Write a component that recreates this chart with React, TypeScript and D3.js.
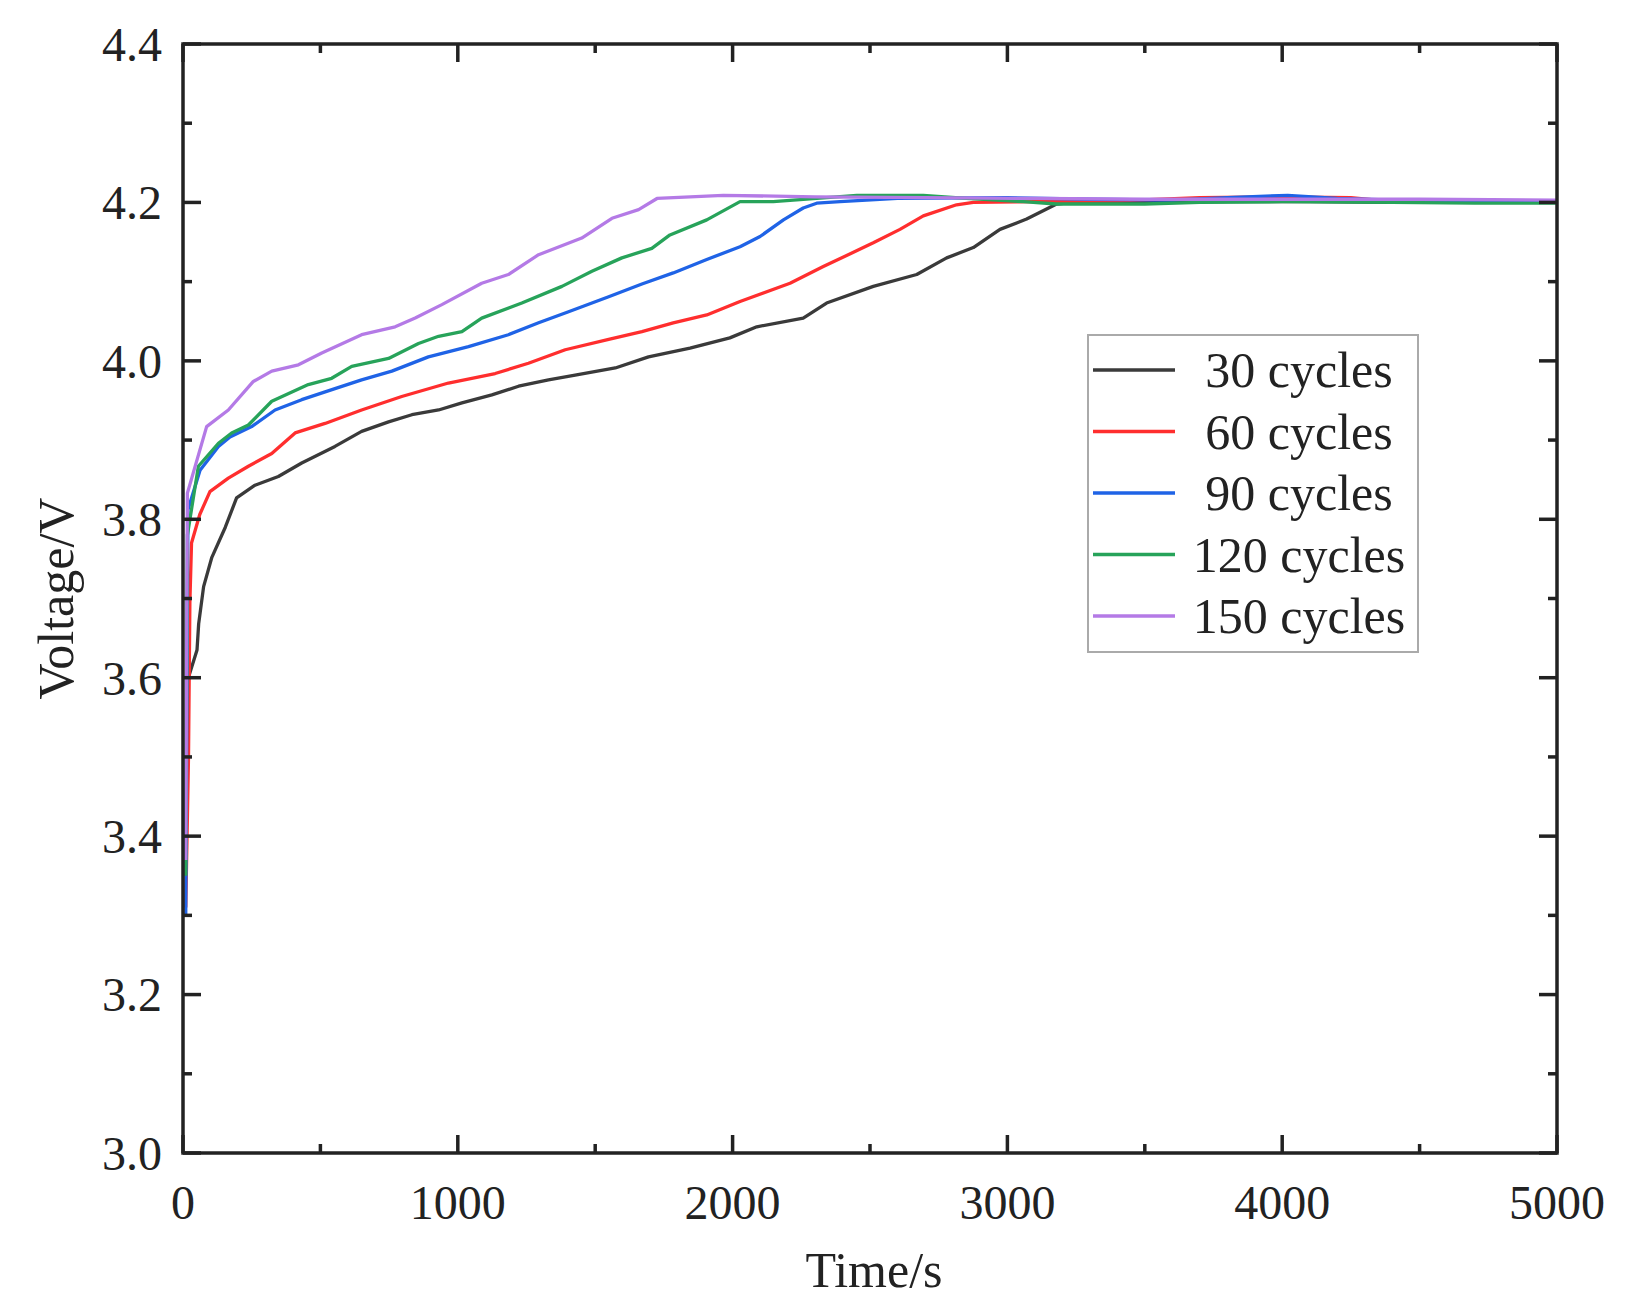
import { useEffect, useRef } from 'react';
import * as d3 from 'd3';

type Pt = [number, number];

// time (s), voltage (V)
const cycles30: Pt[] = [
    [15, 3.595], [51, 3.635], [57, 3.668], [75, 3.715], [105, 3.752], [154, 3.79], [195, 3.827],
    [262, 3.843], [347, 3.854], [432, 3.871], [553, 3.892], [650, 3.911], [748, 3.923], [833, 3.932],
    [930, 3.938], [1015, 3.947], [1124, 3.957], [1221, 3.968], [1330, 3.976], [1427, 3.982],
    [1573, 3.991], [1694, 4.005], [1845, 4.016], [1990, 4.029], [2088, 4.043], [2257, 4.054],
    [2342, 4.073], [2512, 4.094], [2670, 4.109], [2779, 4.13], [2876, 4.143], [2973, 4.166],
    [3070, 4.179], [3179, 4.198], [3240, 4.2], [3500, 4.2], [3800, 4.201], [4100, 4.201],
    [4400, 4.2], [4700, 4.2], [5000, 4.2],
];

const cycles60: Pt[] = [
    [10, 3.31], [20, 3.5], [25, 3.695], [31, 3.77], [61, 3.806], [98, 3.835], [165, 3.852],
    [238, 3.867], [323, 3.883], [408, 3.909], [517, 3.921], [650, 3.938], [796, 3.955], [966, 3.972],
    [1136, 3.984], [1257, 3.997], [1391, 4.014], [1549, 4.027], [1670, 4.037], [1784, 4.048],
    [1906, 4.058], [2027, 4.075], [2209, 4.098], [2330, 4.119], [2512, 4.149], [2609, 4.166],
    [2694, 4.183], [2815, 4.197], [2876, 4.2], [3100, 4.201], [3400, 4.202], [3700, 4.206],
    [4000, 4.207], [4250, 4.206], [4400, 4.201], [4700, 4.201], [5000, 4.201],
];

const cycles90: Pt[] = [
    [10, 3.3], [18, 3.812], [62, 3.862], [129, 3.892], [171, 3.904], [250, 3.917], [335, 3.938],
    [432, 3.951], [553, 3.965], [650, 3.976], [760, 3.987], [893, 4.005], [1039, 4.018], [1184, 4.033],
    [1294, 4.048], [1403, 4.062], [1549, 4.081], [1670, 4.097], [1784, 4.111], [1906, 4.128],
    [2027, 4.144], [2100, 4.157], [2185, 4.178], [2257, 4.193], [2306, 4.199], [2391, 4.201],
    [2600, 4.205], [3000, 4.206], [3300, 4.204], [3600, 4.203], [3800, 4.206], [4020, 4.209],
    [4200, 4.205], [4500, 4.202], [5000, 4.201],
];

const cycles120: Pt[] = [
    [10, 3.35], [16, 3.78], [56, 3.867], [129, 3.896], [177, 3.909], [238, 3.919], [323, 3.949],
    [456, 3.97], [541, 3.978], [614, 3.993], [748, 4.003], [857, 4.022], [930, 4.031], [1015, 4.037],
    [1087, 4.054], [1233, 4.073], [1379, 4.094], [1488, 4.113], [1597, 4.13], [1706, 4.142],
    [1772, 4.159], [1906, 4.178], [2027, 4.201], [2148, 4.201], [2452, 4.209], [2694, 4.209],
    [2850, 4.205], [3058, 4.201], [3179, 4.198], [3500, 4.198], [3700, 4.2], [4000, 4.201],
    [4400, 4.2], [4700, 4.199], [5000, 4.199],
];

const cycles150: Pt[] = [
    [10, 3.37], [16, 3.833], [86, 3.917], [165, 3.938], [256, 3.974], [323, 3.987], [420, 3.995],
    [505, 4.01], [650, 4.033], [772, 4.043], [845, 4.054], [942, 4.071], [1087, 4.098], [1184, 4.109],
    [1294, 4.134], [1451, 4.155], [1561, 4.18], [1658, 4.191], [1725, 4.205], [1966, 4.209],
    [2300, 4.207], [2700, 4.206], [3100, 4.205], [3500, 4.204], [4000, 4.204], [4500, 4.204],
    [5000, 4.203],
];

const seriesNames = ['30 cycles', '60 cycles', '90 cycles', '120 cycles', '150 cycles'];
const seriesColors = ['#3a3a3a', '#ff2e2e', '#1f63e6', '#27a35a', '#b47ae6'];
const seriesData = [cycles30, cycles60, cycles90, cycles120, cycles150];

const xTicks = [0, 1000, 2000, 3000, 4000, 5000];
const xMinorTicks = [500, 1500, 2500, 3500, 4500];
const yTicks = [3.0, 3.2, 3.4, 3.6, 3.8, 4.0, 4.2, 4.4];
const yMinorTicks = [3.1, 3.3, 3.5, 3.7, 3.9, 4.1, 4.3];

const FONT = "'Liberation Serif', 'Times New Roman', serif";

export default function App() {
    const svgRef = useRef<SVGSVGElement>(null);
    const width = 1630;
    const height = 1300;

    useEffect(() => {
        if (!svgRef.current) return;
        d3.select(svgRef.current).selectAll('*').remove();

        const left = 183, right = 1557, top = 44, bottom = 1153;
        const svg = d3.select(svgRef.current);

        const x = d3.scaleLinear().domain([0, 5000]).range([left, right]);
        const y = d3.scaleLinear().domain([3.0, 4.4]).range([bottom, top]);

        // Lines
        const line = d3
            .line<Pt>()
            .x((d) => x(d[0]))
            .y((d) => y(d[1]));

        seriesData.forEach((data, i) => {
            svg
                .append('path')
                .datum(data)
                .attr('d', line)
                .attr('fill', 'none')
                .attr('stroke', seriesColors[i])
                .attr('stroke-width', 3.3)
                .attr('stroke-linejoin', 'round');
        });

        const axisColor = '#222';

        // Ticks on all four sides, pointing inward
        const tickLine = (x1: number, y1: number, x2: number, y2: number) =>
            svg
                .append('line')
                .attr('x1', x1)
                .attr('y1', y1)
                .attr('x2', x2)
                .attr('y2', y2)
                .attr('stroke', axisColor)
                .attr('stroke-width', 3.5);

        xTicks.forEach((t) => {
            tickLine(x(t), bottom, x(t), bottom - 18);
            tickLine(x(t), top, x(t), top + 18);
        });
        xMinorTicks.forEach((t) => {
            tickLine(x(t), bottom, x(t), bottom - 9);
            tickLine(x(t), top, x(t), top + 9);
        });
        yTicks.forEach((v) => {
            tickLine(left, y(v), left + 18, y(v));
            tickLine(right, y(v), right - 18, y(v));
        });
        yMinorTicks.forEach((v) => {
            tickLine(left, y(v), left + 9, y(v));
            tickLine(right, y(v), right - 9, y(v));
        });

        // Frame
        svg
            .append('rect')
            .attr('x', left)
            .attr('y', top)
            .attr('width', right - left)
            .attr('height', bottom - top)
            .attr('fill', 'none')
            .attr('stroke', axisColor)
            .attr('stroke-width', 3.5);

        // Tick labels
        svg
            .selectAll('.ylab')
            .data(yTicks)
            .enter()
            .append('text')
            .attr('x', 162)
            .attr('y', (d) => y(d))
            .attr('dy', '0.35em')
            .attr('text-anchor', 'end')
            .attr('font-family', FONT)
            .attr('font-size', 48)
            .attr('fill', '#222')
            .text((d) => d.toFixed(1));

        svg
            .selectAll('.xlab')
            .data(xTicks)
            .enter()
            .append('text')
            .attr('x', (d) => x(d))
            .attr('y', 1219)
            .attr('text-anchor', 'middle')
            .attr('font-family', FONT)
            .attr('font-size', 48)
            .attr('fill', '#222')
            .text((d) => String(d));

        // Axis titles
        svg
            .append('text')
            .attr('transform', `translate(55, ${(top + bottom) / 2}) rotate(-90)`)
            .attr('dy', '0.35em')
            .attr('text-anchor', 'middle')
            .attr('font-family', FONT)
            .attr('font-size', 50)
            .attr('fill', '#222')
            .text('Voltage/V');

        svg
            .append('text')
            .attr('x', (left + right) / 2 + 4)
            .attr('y', 1287)
            .attr('text-anchor', 'middle')
            .attr('font-family', FONT)
            .attr('font-size', 50)
            .attr('fill', '#222')
            .text('Time/s');

        // Legend
        const legend = svg.append('g');
        legend
            .append('rect')
            .attr('x', 1088)
            .attr('y', 335)
            .attr('width', 330)
            .attr('height', 317)
            .attr('fill', 'white')
            .attr('stroke', '#aaa')
            .attr('stroke-width', 2);

        seriesNames.forEach((name, i) => {
            const ly = 370 + i * 61.5;
            legend
                .append('line')
                .attr('x1', 1093)
                .attr('x2', 1175)
                .attr('y1', ly)
                .attr('y2', ly)
                .attr('stroke', seriesColors[i])
                .attr('stroke-width', 3.3);
            legend
                .append('text')
                .attr('x', 1299)
                .attr('y', ly + 17)
                .attr('text-anchor', 'middle')
                .attr('font-family', FONT)
                .attr('font-size', 50)
                .attr('fill', '#222')
                .text(name);
        });
    }, []);

    return (
        <svg
            ref={svgRef}
            width={width}
            height={height}
            style={{ position: 'absolute', left: 0, top: 0, background: 'white' }}
        ></svg>
    );
}
